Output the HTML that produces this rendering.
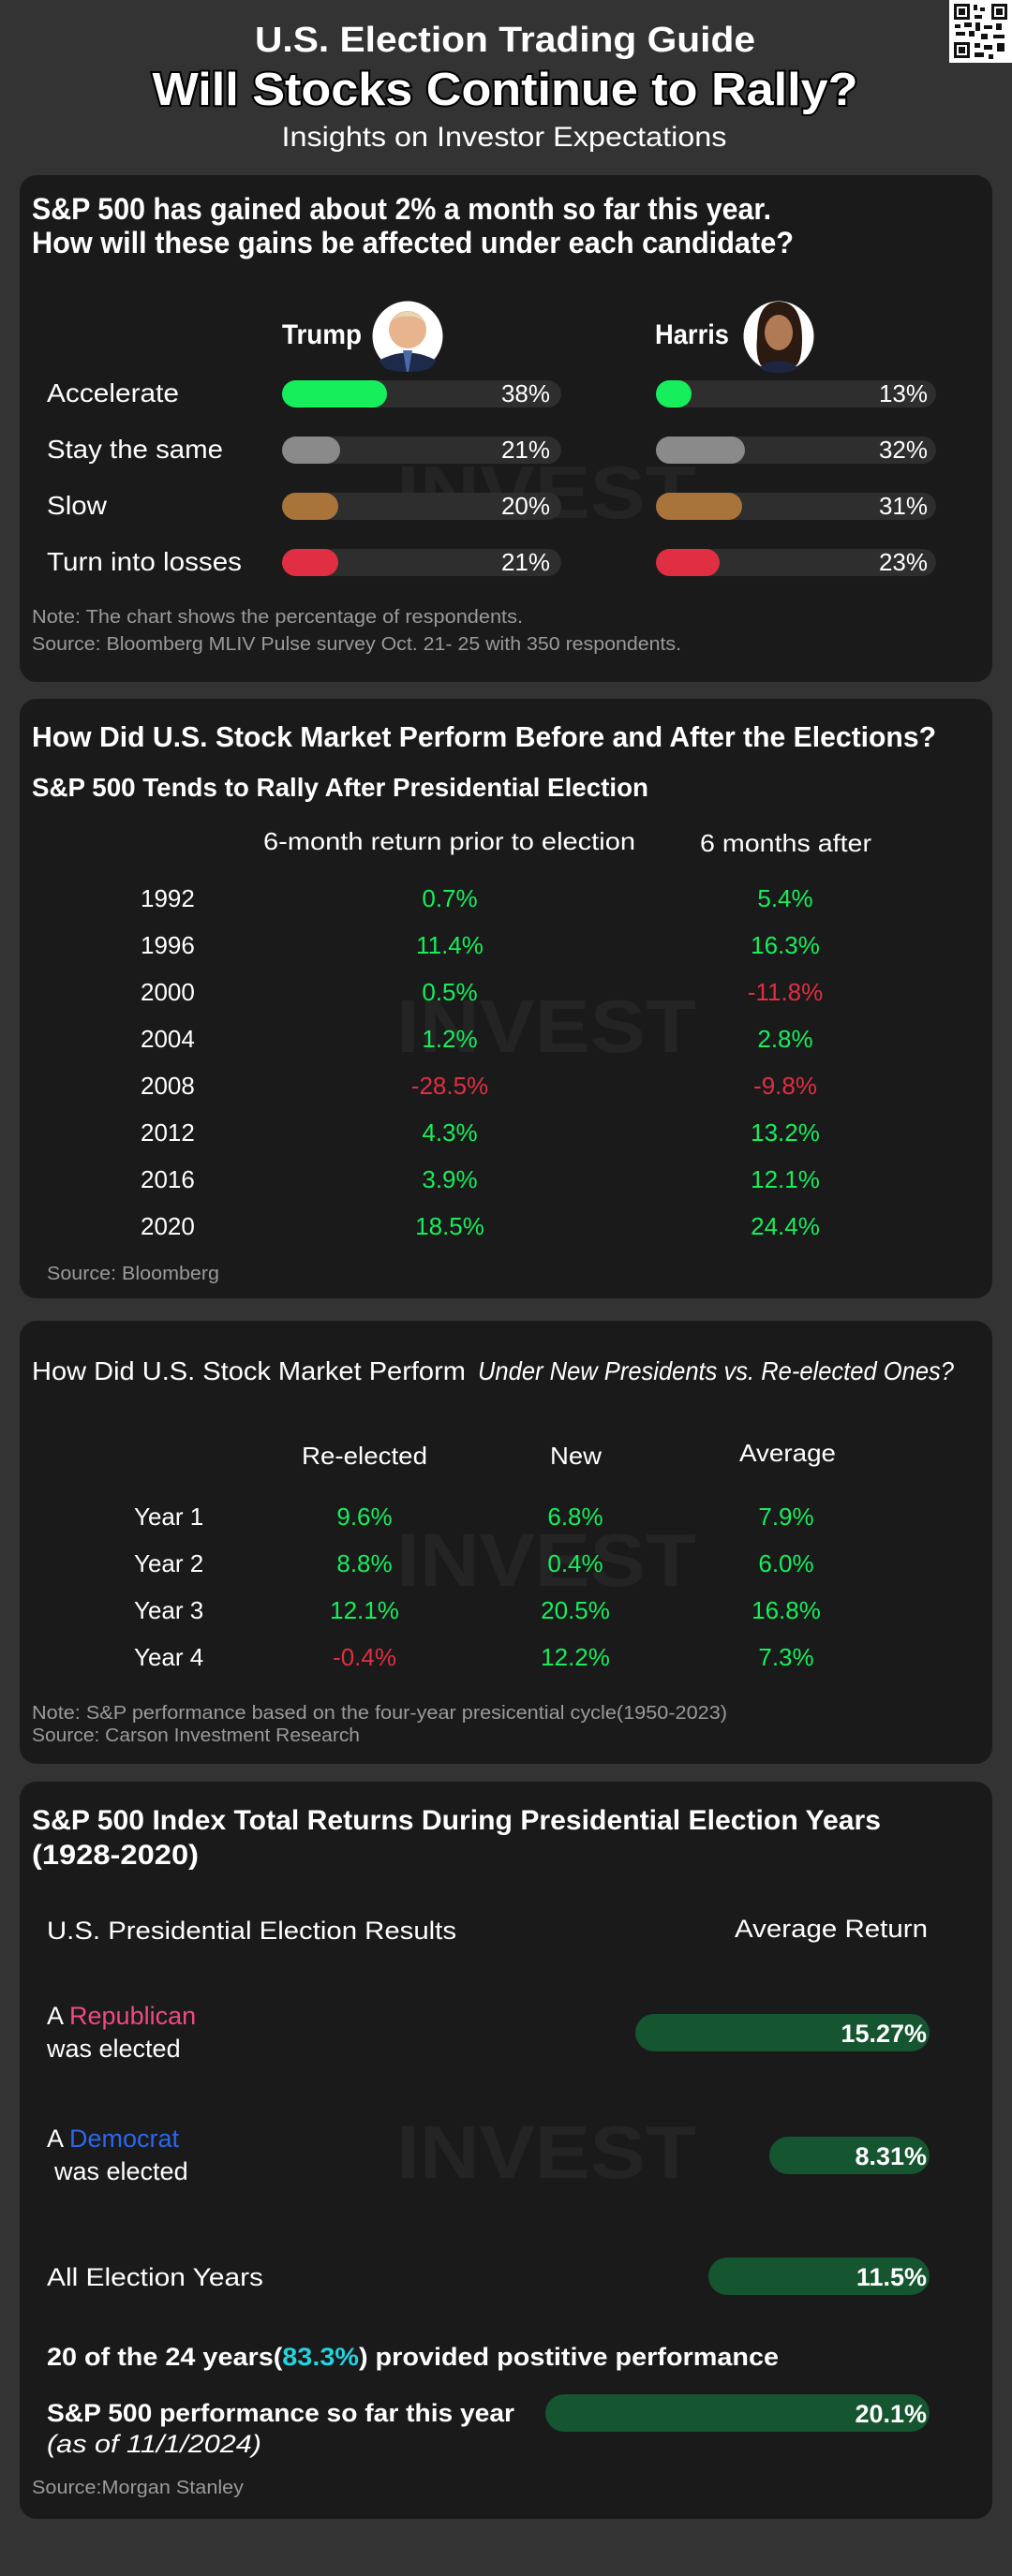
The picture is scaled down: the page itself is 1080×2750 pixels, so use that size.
<!DOCTYPE html>
<html><head><meta charset="utf-8"><style>
html,body{margin:0;padding:0;background:#333;}
svg{display:block;}
text{font-family:"Liberation Sans",sans-serif;}
</style></head><body>
<svg width="1080" height="2750" viewBox="0 0 1080 2750" xmlns="http://www.w3.org/2000/svg">
<rect width="1080" height="2750" fill="#333333"/>
<!-- QR -->
<rect x="1013" y="0" width="67" height="67" fill="#fff"/>
<g fill="#111">
<rect x="1018" y="4" width="17" height="17"/><rect x="1021" y="7" width="11" height="11" fill="#fff"/><rect x="1023" y="9" width="7" height="7"/>
<rect x="1058" y="4" width="17" height="17"/><rect x="1061" y="7" width="11" height="11" fill="#fff"/><rect x="1063" y="9" width="7" height="7"/>
<rect x="1018" y="45" width="17" height="17"/><rect x="1021" y="48" width="11" height="11" fill="#fff"/><rect x="1023" y="50" width="7" height="7"/>
<rect x="1039" y="5" width="4" height="6"/><rect x="1046" y="8" width="5" height="4"/><rect x="1040" y="16" width="8" height="4"/>
<rect x="1019" y="26" width="6" height="4"/><rect x="1029" y="24" width="8" height="5"/><rect x="1041" y="24" width="5" height="9"/>
<rect x="1050" y="27" width="9" height="4"/><rect x="1063" y="25" width="6" height="7"/><rect x="1020" y="34" width="10" height="4"/>
<rect x="1034" y="33" width="6" height="6"/><rect x="1047" y="36" width="7" height="6"/><rect x="1060" y="37" width="12" height="4"/>
<rect x="1040" y="46" width="6" height="5"/><rect x="1050" y="48" width="9" height="5"/><rect x="1064" y="46" width="8" height="9"/>
<rect x="1040" y="56" width="10" height="5"/><rect x="1055" y="58" width="5" height="5"/>
</g>
<!-- Titles -->
<text x="539" y="55" font-size="38" font-weight="bold" fill="#fff" text-anchor="middle" textLength="534" lengthAdjust="spacingAndGlyphs">U.S. Election Trading Guide</text>
<text x="539" y="112" font-size="49" font-weight="bold" fill="#fff" stroke="#000" stroke-width="4" paint-order="stroke" text-anchor="middle" textLength="753" lengthAdjust="spacingAndGlyphs">Will Stocks Continue to Rally?</text>
<text x="538" y="156" font-size="30" fill="#fff" text-anchor="middle" textLength="475" lengthAdjust="spacingAndGlyphs">Insights on Investor Expectations</text>

<!-- Cards -->
<rect x="21" y="187" width="1038" height="541" rx="18" fill="#1a1a1a"/>
<rect x="21" y="746" width="1038" height="640" rx="18" fill="#1a1a1a"/>
<rect x="21" y="1410" width="1038" height="473" rx="18" fill="#1a1a1a"/>
<rect x="21" y="1902" width="1038" height="787" rx="18" fill="#1a1a1a"/>

<!-- watermarks -->
<g fill="#242424" font-weight="bold">
<text x="423" y="553" font-size="80" textLength="320" lengthAdjust="spacingAndGlyphs">INVEST</text>
<text x="423" y="1123" font-size="80" textLength="320" lengthAdjust="spacingAndGlyphs">INVEST</text>
<text x="423" y="1693" font-size="80" textLength="320" lengthAdjust="spacingAndGlyphs">INVEST</text>
<text x="423" y="2325" font-size="80" textLength="320" lengthAdjust="spacingAndGlyphs">INVEST</text>
</g>

<!-- Card 1 -->
<text x="34" y="234" font-size="32" font-weight="bold" fill="#fff" textLength="789" lengthAdjust="spacingAndGlyphs">S&amp;P 500 has gained about 2% a month so far this year.</text>
<text x="34" y="270" font-size="32" font-weight="bold" fill="#fff" textLength="813" lengthAdjust="spacingAndGlyphs">How will these gains be affected under each candidate?</text>
<text x="301" y="367" font-size="30" font-weight="bold" fill="#fff" textLength="85" lengthAdjust="spacingAndGlyphs">Trump</text>
<text x="699" y="367" font-size="30" font-weight="bold" fill="#fff" textLength="79" lengthAdjust="spacingAndGlyphs">Harris</text>
<circle cx="435" cy="359" r="37.5" fill="#fff"/>
<circle cx="435" cy="352" r="20" fill="#e8b48e"/><path d="M416 345 Q435 320 455 345 Q445 336 435 338 Q424 336 416 345Z" fill="#e6d8b0"/>
<path d="M404 385 Q435 368 466 385 L458 394 Q435 400 412 394Z" fill="#1d2a4a"/><path d="M430 374 L440 374 L436 397 L434 397Z" fill="#4a6aa8"/>
<circle cx="831" cy="359" r="37.5" fill="#fff"/>
<path d="M808 360 Q808 322 831 322 Q856 322 856 362 Q856 384 850 390 L812 390 Q806 380 808 360Z" fill="#2a1a12"/>
<ellipse cx="831" cy="355" rx="15" ry="19" fill="#b07a55"/>
<path d="M810 392 Q831 378 852 392 L846 396 Q831 400 816 396Z" fill="#1d2540"/>

<g font-size="28" fill="#fff">
<text x="50" y="429" textLength="141" lengthAdjust="spacingAndGlyphs">Accelerate</text>
<text x="50" y="489" textLength="188" lengthAdjust="spacingAndGlyphs">Stay the same</text>
<text x="50" y="549" textLength="64" lengthAdjust="spacingAndGlyphs">Slow</text>
<text x="50" y="609" textLength="208" lengthAdjust="spacingAndGlyphs">Turn into losses</text>
</g>
<g>
<rect x="301" y="406" width="298" height="29" rx="14.5" fill="#2e2e2e"/>
<rect x="301" y="466" width="298" height="29" rx="14.5" fill="#2e2e2e"/>
<rect x="301" y="526" width="298" height="29" rx="14.5" fill="#2e2e2e"/>
<rect x="301" y="586" width="298" height="29" rx="14.5" fill="#2e2e2e"/>
<rect x="700" y="406" width="299" height="29" rx="14.5" fill="#2e2e2e"/>
<rect x="700" y="466" width="299" height="29" rx="14.5" fill="#2e2e2e"/>
<rect x="700" y="526" width="299" height="29" rx="14.5" fill="#2e2e2e"/>
<rect x="700" y="586" width="299" height="29" rx="14.5" fill="#2e2e2e"/>
<rect x="301" y="406" width="112" height="29" rx="14.5" fill="#16ee5c"/>
<rect x="301" y="466" width="62" height="29" rx="14.5" fill="#8a8a8a"/>
<rect x="301" y="526" width="60" height="29" rx="14.5" fill="#a8743a"/>
<rect x="301" y="586" width="60" height="29" rx="14.5" fill="#e02e42"/>
<rect x="700" y="406" width="38" height="29" rx="14.5" fill="#16ee5c"/>
<rect x="700" y="466" width="95" height="29" rx="14.5" fill="#8a8a8a"/>
<rect x="700" y="526" width="92" height="29" rx="14.5" fill="#a8743a"/>
<rect x="700" y="586" width="68" height="29" rx="14.5" fill="#e02e42"/>
</g>
<g font-size="26" fill="#fff" text-anchor="end">
<text x="587" y="429">38%</text><text x="587" y="489">21%</text><text x="587" y="549">20%</text><text x="587" y="609">21%</text>
<text x="990" y="429">13%</text><text x="990" y="489">32%</text><text x="990" y="549">31%</text><text x="990" y="609">23%</text>
</g>
<text x="34" y="665" font-size="20" fill="#9a9a9a" textLength="524" lengthAdjust="spacingAndGlyphs">Note: The chart shows the percentage of respondents.</text>
<text x="34" y="694" font-size="20" fill="#9a9a9a" textLength="693" lengthAdjust="spacingAndGlyphs">Source: Bloomberg MLIV Pulse survey Oct. 21- 25 with 350 respondents.</text>

<!-- Card 2 -->
<text x="34" y="797" font-size="31" font-weight="bold" fill="#fff" textLength="965" lengthAdjust="spacingAndGlyphs">How Did U.S. Stock Market Perform Before and After the Elections?</text>
<text x="34" y="850" font-size="28" font-weight="bold" fill="#fff" textLength="658" lengthAdjust="spacingAndGlyphs">S&amp;P 500 Tends to Rally After Presidential Election</text>
<text x="281" y="907" font-size="26" fill="#fff" textLength="397" lengthAdjust="spacingAndGlyphs">6-month return prior to election</text>
<text x="747" y="909" font-size="26" fill="#fff" textLength="183" lengthAdjust="spacingAndGlyphs">6 months after</text>
<g font-size="26" fill="#fff">
<text x="150" y="968">1992</text><text x="150" y="1018">1996</text><text x="150" y="1068">2000</text><text x="150" y="1118">2004</text>
<text x="150" y="1168">2008</text><text x="150" y="1218">2012</text><text x="150" y="1268">2016</text><text x="150" y="1318">2020</text>
</g>
<g font-size="26" fill="#16ee5c" text-anchor="middle">
<text x="480" y="968">0.7%</text><text x="480" y="1018">11.4%</text><text x="480" y="1068">0.5%</text><text x="480" y="1118">1.2%</text>
<text x="480" y="1168" fill="#e02e42">-28.5%</text><text x="480" y="1218">4.3%</text><text x="480" y="1268">3.9%</text><text x="480" y="1318">18.5%</text>
<text x="838" y="968">5.4%</text><text x="838" y="1018">16.3%</text><text x="838" y="1068" fill="#e02e42">-11.8%</text><text x="838" y="1118">2.8%</text>
<text x="838" y="1168" fill="#e02e42">-9.8%</text><text x="838" y="1218">13.2%</text><text x="838" y="1268">12.1%</text><text x="838" y="1318">24.4%</text>
</g>
<text x="50" y="1366" font-size="20" fill="#9a9a9a" textLength="184" lengthAdjust="spacingAndGlyphs">Source: Bloomberg</text>

<!-- Card 3 -->
<text x="34" y="1473" font-size="28" fill="#fff"><tspan textLength="471" lengthAdjust="spacingAndGlyphs">How Did U.S. Stock Market Perform </tspan><tspan font-style="italic" x="510" textLength="508" lengthAdjust="spacingAndGlyphs">Under New Presidents vs. Re-elected Ones?</tspan></text>
<g font-size="26" fill="#fff">
<text x="322" y="1563" textLength="134" lengthAdjust="spacingAndGlyphs">Re-elected</text>
<text x="587" y="1563" textLength="55" lengthAdjust="spacingAndGlyphs">New</text>
<text x="789" y="1560" textLength="103" lengthAdjust="spacingAndGlyphs">Average</text>
<text x="143" y="1628">Year 1</text><text x="143" y="1678">Year 2</text><text x="143" y="1728">Year 3</text><text x="143" y="1778">Year 4</text>
</g>
<g font-size="26" fill="#16ee5c" text-anchor="middle">
<text x="389" y="1628">9.6%</text><text x="389" y="1678">8.8%</text><text x="389" y="1728">12.1%</text><text x="389" y="1778" fill="#e02e42">-0.4%</text>
<text x="614" y="1628">6.8%</text><text x="614" y="1678">0.4%</text><text x="614" y="1728">20.5%</text><text x="614" y="1778">12.2%</text>
<text x="839" y="1628">7.9%</text><text x="839" y="1678">6.0%</text><text x="839" y="1728">16.8%</text><text x="839" y="1778">7.3%</text>
</g>
<text x="34" y="1835" font-size="20" fill="#9a9a9a" textLength="742" lengthAdjust="spacingAndGlyphs">Note: S&amp;P performance based on the four-year presicential cycle(1950-2023)</text>
<text x="34" y="1859" font-size="20" fill="#9a9a9a" textLength="350" lengthAdjust="spacingAndGlyphs">Source: Carson Investment Research</text>

<!-- Card 4 -->
<text x="34" y="1953" font-size="30" font-weight="bold" fill="#fff" textLength="906" lengthAdjust="spacingAndGlyphs">S&amp;P 500 Index Total Returns During Presidential Election Years</text>
<text x="34" y="1990" font-size="30" font-weight="bold" fill="#fff" textLength="178" lengthAdjust="spacingAndGlyphs">(1928-2020)</text>
<text x="50" y="2070" font-size="27" fill="#fff" textLength="437" lengthAdjust="spacingAndGlyphs">U.S. Presidential Election Results</text>
<text x="784" y="2068" font-size="27" fill="#fff" textLength="206" lengthAdjust="spacingAndGlyphs">Average Return</text>
<g font-size="27" fill="#fff">
<text x="50" y="2161">A <tspan fill="#ee4a7e">Republican</tspan></text>
<text x="50" y="2196">was elected</text>
<text x="50" y="2292">A <tspan fill="#2a66ee">Democrat</tspan></text>
<text x="58" y="2327">was elected</text>
<text x="50" y="2440" textLength="231" lengthAdjust="spacingAndGlyphs">All Election Years</text>
<text x="50" y="2525" font-weight="bold" textLength="781" lengthAdjust="spacingAndGlyphs">20 of the 24 years(<tspan fill="#22d3e0">83.3%</tspan>) provided postitive performance</text>
<text x="50" y="2585" font-weight="bold" textLength="499" lengthAdjust="spacingAndGlyphs">S&amp;P 500 performance so far this year</text>
<text x="50" y="2618" font-style="italic" textLength="229" lengthAdjust="spacingAndGlyphs">(as of 11/1/2024)</text>
</g>
<g fill="#155530">
<rect x="678" y="2150" width="314" height="40" rx="20"/>
<rect x="821" y="2281" width="171" height="40" rx="20"/>
<rect x="756" y="2410" width="236" height="40" rx="20"/>
<rect x="582" y="2556" width="410" height="40" rx="20"/>
</g>
<g font-size="27" font-weight="bold" fill="#fff" text-anchor="end">
<text x="989" y="2180">15.27%</text><text x="989" y="2311">8.31%</text><text x="989" y="2440">11.5%</text><text x="989" y="2586">20.1%</text>
</g>
<text x="34" y="2662" font-size="20" fill="#9a9a9a" textLength="226" lengthAdjust="spacingAndGlyphs">Source:Morgan Stanley</text>
</svg>
</body></html>
